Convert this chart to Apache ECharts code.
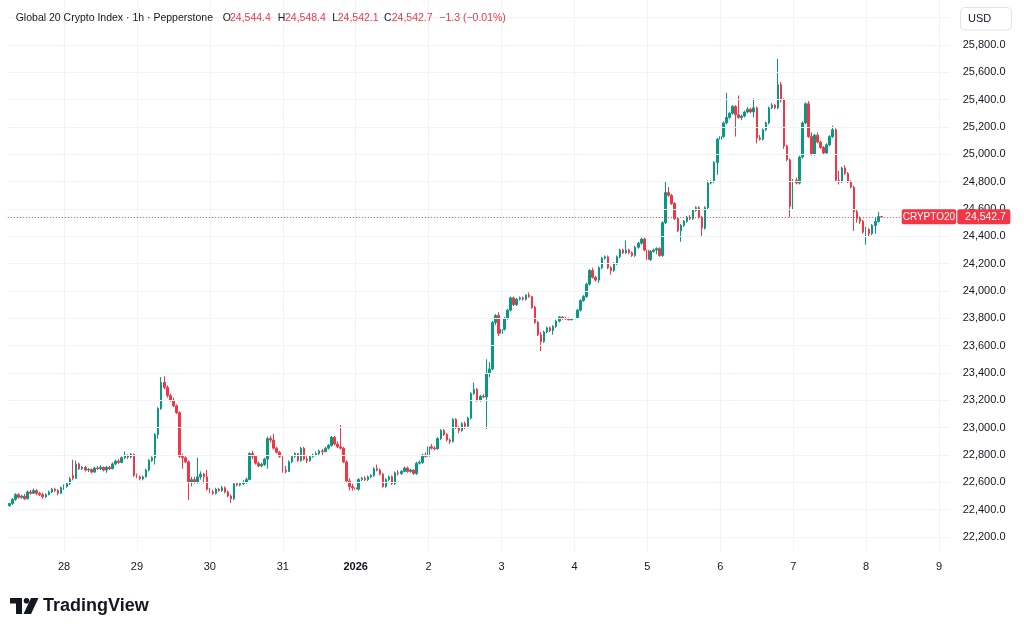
<!DOCTYPE html>
<html><head><meta charset="utf-8">
<script src="https://cdn.jsdelivr.net/npm/echarts@6/dist/echarts.min.js"></script>
<style>html,body{margin:0;padding:0;background:#fff}#c{width:1024px;height:632px}</style>
</head><body><div id="c"></div>
<script>
// Hourly candles [open, high, low, close], first candle = 27 Dec 2025 06:00
const startTime = Date.UTC(2025, 11, 27, 6);
const futureHours = 22;
const seriesName = 'CRYPTO20';
const headerTitle = 'Global 20 Crypto Index · 1h · Pepperstone';
const headerOHLC = [['O','24,544.4'],['H','24,548.4'],['L','24,542.1'],['C','24,542.7']];
const headerChange = '−1.3 (−0.01%)';
const currencyLabel = 'USD';
const priceTicks = [22200, 22400, 22600, 22800, 23000, 23200, 23400, 23600, 23800, 24000,
  24200, 24400, 24600, 24800, 25000, 25200, 25400, 25600, 25800, 26000];

const dec27 = [
[22430,22450,22420,22445],[22445,22485,22435,22475],[22475,22520,22465,22510],[22510,22520,22480,22490],
[22490,22510,22480,22500],[22500,22515,22470,22480],[22480,22540,22475,22530],[22530,22545,22510,22520],
[22520,22555,22515,22540],[22540,22550,22505,22520],[22520,22530,22500,22510],[22510,22525,22480,22495],
[22495,22520,22485,22510],[22510,22540,22505,22530],[22530,22560,22520,22550],[22550,22560,22530,22540],
[22540,22550,22505,22520],[22520,22570,22515,22560]];
const dec28 = [
[22560,22585,22545,22570],[22570,22600,22560,22590],[22590,22640,22580,22625],[22650,22765,22615,22630],
[22630,22760,22625,22735],[22735,22745,22690,22700],[22700,22720,22690,22710],[22710,22720,22680,22690],
[22690,22705,22675,22695],[22695,22700,22665,22675],[22675,22715,22670,22705],[22705,22720,22690,22700],
[22700,22725,22690,22710],[22710,22715,22680,22690],[22690,22720,22670,22710],[22710,22720,22690,22700],
[22700,22745,22695,22735],[22735,22765,22725,22755],[22755,22770,22735,22745],[22745,22790,22740,22780],
[22780,22825,22770,22795],[22795,22805,22770,22785],[22785,22815,22775,22805],[22805,22810,22640,22650]];
const dec29 = [
[22650,22665,22630,22640],[22640,22650,22615,22625],[22625,22650,22615,22640],[22640,22700,22635,22690],
[22690,22770,22680,22760],[22760,22790,22750,22780],[22780,22960,22730,22950],[22950,23150,22920,23140],
[23140,23370,23130,23330],[23330,23375,23280,23295],[23295,23310,23220,23235],[23235,23250,23190,23200],
[23200,23220,23150,23160],[23160,23170,23100,23110],[23110,23120,22780,22790],[22790,22810,22700,22780],
[22780,22790,22740,22750],[22750,22760,22470,22600],[22600,22640,22570,22620],[22620,22640,22590,22600],
[22600,22780,22590,22640],[22640,22680,22620,22660],[22660,22670,22590,22640],[22640,22690,22540,22550]];
const dec30 = [
[22550,22560,22520,22530],[22530,22545,22510,22520],[22520,22560,22510,22550],[22550,22560,22530,22540],
[22540,22575,22530,22560],[22560,22570,22520,22530],[22530,22540,22490,22500],[22500,22510,22450,22480],
[22480,22600,22470,22590],[22590,22600,22570,22580],[22580,22600,22570,22590],[22590,22615,22580,22600],
[22600,22635,22590,22620],[22620,22820,22615,22810],[22810,22830,22770,22790],[22790,22800,22730,22740],
[22740,22750,22710,22720],[22720,22745,22710,22730],[22730,22780,22720,22770],[22770,22935,22700,22920],
[22920,22940,22890,22910],[22910,22955,22840,22850],[22850,22860,22810,22820],[22820,22830,22780,22790]];
const dec31 = [
[22790,22800,22670,22680],[22690,22720,22665,22680],[22680,22760,22675,22750],[22750,22800,22740,22790],
[22790,22820,22780,22810],[22810,22815,22750,22760],[22760,22860,22750,22850],[22850,22860,22760,22770],
[22770,22790,22740,22760],[22760,22800,22750,22790],[22790,22810,22780,22800],[22800,22825,22790,22810],
[22810,22840,22800,22830],[22830,22845,22800,22825],[22825,22860,22820,22850],[22850,22880,22840,22870],
[22870,22940,22860,22930],[22930,22940,22870,22880],[22880,22900,22850,22860],[22860,23020,22840,22850],
[22850,22860,22740,22750],[22750,22760,22600,22610],[22610,22630,22540,22570],[22570,22590,22540,22560]];
const jan01 = [
[22560,22570,22480,22550],[22550,22630,22540,22620],[22620,22640,22610,22630],[22630,22645,22610,22620],
[22620,22650,22610,22640],[22640,22660,22630,22650],[22650,22710,22640,22700],[22700,22730,22680,22690],
[22690,22700,22650,22660],[22660,22670,22560,22570],[22570,22630,22560,22620],[22620,22650,22610,22640],
[22640,22650,22580,22590],[22590,22680,22580,22670],[22670,22690,22650,22665],[22665,22690,22655,22680],
[22680,22715,22675,22705],[22705,22715,22670,22680],[22680,22700,22670,22690],[22690,22695,22655,22665],
[22665,22750,22655,22740],[22740,22760,22730,22745],[22745,22810,22735,22800],[22800,22820,22780,22790]];
const jan02 = [
[22790,22870,22785,22860],[22860,22880,22840,22850],[22850,22865,22835,22845],[22845,22930,22840,22920],
[22920,22990,22910,22980],[22980,22990,22940,22950],[22950,22960,22900,22910],[22910,22920,22880,22900],
[22900,23070,22890,23060],[23060,23070,22990,23000],[23000,23010,22960,22980],[22980,23040,22970,23030],
[23030,23045,22990,23010],[23010,23080,23000,23070],[23070,23260,23060,23250],[23250,23330,23240,23280],
[23280,23290,23190,23200],[23200,23240,23190,23230],[23230,23245,23215,23225],[23225,23500,22990,23400],
[23400,23480,23370,23430],[23430,23780,23420,23770],[23770,23830,23750,23820],[23820,23845,23670,23690]];
const jan03 = [
[23690,23730,23680,23720],[23720,23810,23710,23800],[23800,23870,23790,23860],[23860,23960,23850,23950],
[23950,23960,23890,23900],[23900,23950,23890,23940],[23940,23960,23930,23950],[23950,23960,23930,23940],
[23940,23975,23930,23970],[23970,23990,23950,23960],[23960,23965,23870,23880],[23880,23890,23760,23770],
[23770,23780,23670,23680],[23680,23700,23560,23630],[23630,23710,23620,23700],[23700,23740,23690,23730],
[23730,23740,23700,23710],[23710,23750,23680,23740],[23740,23790,23730,23780],[23780,23815,23770,23810],
[23810,23815,23790,23800],[23800,23810,23790,23795],[23795,23805,23785,23790],[23790,23800,23785,23795]];
const jan04 = [
[23795,23810,23785,23800],[23800,23870,23795,23860],[23860,23940,23850,23930],[23930,23970,23920,23960],
[23960,24060,23950,24050],[24050,24160,24040,24150],[24150,24170,24090,24100],[24100,24110,24070,24080],
[24080,24180,24060,24170],[24170,24250,24160,24240],[24240,24260,24230,24250],[24250,24260,24160,24170],
[24170,24180,24120,24150],[24150,24210,24140,24200],[24200,24260,24190,24250],[24250,24310,24240,24300],
[24300,24310,24270,24280],[24280,24370,24270,24300],[24300,24310,24270,24280],[24280,24290,24250,24260],
[24260,24330,24250,24320],[24320,24360,24310,24350],[24350,24390,24340,24380],[24380,24390,24290,24300]];
const jan05 = [
[24300,24310,24150,24230],[24230,24300,24220,24290],[24290,24310,24280,24300],[24300,24320,24270,24310],
[24310,24320,24250,24260],[24260,24510,24250,24500],[24500,24800,24490,24720],[24720,24760,24690,24700],
[24700,24710,24630,24640],[24640,24650,24520,24530],[24530,24540,24430,24440],[24440,24490,24360,24480],
[24480,24520,24470,24510],[24510,24550,24500,24540],[24540,24555,24520,24530],[24530,24600,24520,24590],
[24590,24620,24580,24610],[24610,24620,24530,24540],[24540,24550,24400,24460],[24460,24620,24450,24610],
[24610,24810,24600,24790],[24790,24810,24780,24800],[24800,24950,24790,24940],[24940,25120,24850,25110]];
const jan06 = [
[25110,25150,25100,25130],[25130,25240,25120,25230],[25230,25450,25220,25270],[25270,25310,25260,25300],
[25300,25360,25290,25350],[25350,25360,25130,25290],[25290,25430,25260,25270],[25270,25290,25250,25280],
[25280,25320,25270,25310],[25310,25345,25300,25330],[25330,25340,25300,25310],[25310,25410,25270,25340],
[25340,25350,25080,25120],[25120,25140,25100,25110],[25110,25190,25100,25180],[25180,25240,25170,25230],
[25230,25350,25220,25340],[25340,25375,25330,25360],[25360,25370,25330,25340],[25340,25700,25330,25510],
[25510,25530,25380,25400],[25400,25410,25040,25060],[25060,25070,24950,24960],[24960,24970,24540,24620]];
const jan07 = [
[24620,24820,24600,24810],[24810,24830,24780,24790],[24790,24990,24780,24980],[24980,25240,24970,25230],
[25230,25380,25220,25370],[25370,25390,25120,25130],[25130,25160,24990,25000],[25000,25150,24990,25140],
[25140,25160,25080,25090],[25090,25100,25040,25050],[25050,25060,25000,25010],[25010,25080,25000,25070],
[25070,25140,25060,25130],[25130,25210,25120,25180],[25180,25190,24800,24810],[24810,24880,24780,24800],
[24800,24910,24790,24900],[24900,24920,24850,24860],[24860,24870,24790,24800],[24800,24810,24750,24760],
[24760,24770,24440,24580],[24580,24600,24500,24530],[24530,24545,24490,24510],[24510,24520,24420,24430]];
const jan08 = [
[24430,24470,24340,24450],[24450,24460,24400,24420],[24420,24490,24410,24480],[24480,24540,24420,24510],
[24510,24580,24500,24544.4],[24544.4,24548.4,24542.1,24542.7]];

const candles = [].concat(dec27, dec28, dec29, dec30, dec31, jan01, jan02, jan03, jan04, jan05, jan06, jan07, jan08);
const total = candles.length + futureHours;
const categories = [];
for (let i = 0; i < total; i++) categories.push(startTime + i * 3600000);
const lastClose = candles[candles.length - 1][3];

const UP = '#089981', DOWN = '#f23645', TEXT = '#131722', GRID = '#f0f3fa';
const FONT = 'Liberation Sans, Arial, sans-serif';
function fmt(v) {
  return Number(v).toLocaleString('en-US', {minimumFractionDigits: 1, maximumFractionDigits: 1});
}
function isDayStart(i) { return new Date(categories[i]).getUTCHours() === 0; }
const dayStartIdx = [];
for (let i = 0; i < total; i++) if (isDayStart(i)) dayStartIdx.push(i);

const gridLines = [].concat(
  priceTicks.map(v => ({yAxis: v})),
  dayStartIdx.map(i => ({xAxis: i}))
);

const chart = echarts.init(document.getElementById('c'), null, {renderer: 'canvas'});
const option = {
  animation: false,
  backgroundColor: '#ffffff',
  grid: {left: 7.8, right: 74.3, top: 0, bottom: 81},
  xAxis: {
    type: 'category',
    data: categories,
    boundaryGap: true,
    axisLine: {show: false},
    axisTick: {show: false},
    splitLine: {show: false},
    axisLabel: {
      interval: (i) => isDayStart(i),
      margin: 10,
      fontSize: 11,
      fontFamily: FONT,
      color: TEXT,
      formatter: (v) => {
        const d = new Date(Number(v));
        if (d.getUTCMonth() === 0 && d.getUTCDate() === 1) return '{b|' + d.getUTCFullYear() + '}';
        return String(d.getUTCDate());
      },
      rich: {b: {fontWeight: 'bold', fontSize: 11, fontFamily: FONT, color: TEXT}}
    }
  },
  yAxis: {
    type: 'value',
    position: 'right',
    scale: true,
    min: 22097.6,
    max: 26129.3,
    minInterval: 200,
    maxInterval: 200,
    splitNumber: 20,
    axisLine: {show: false},
    axisTick: {show: false},
    splitLine: {show: false},
    axisLabel: {
      margin: 13,
      fontSize: 11,
      fontFamily: FONT,
      color: TEXT,
      showMinLabel: false,
      showMaxLabel: false,
      formatter: (v) => (Math.abs(v % 200) < 0.001 && v < 25900) ? fmt(v) : ''
    }
  },
  series: [{
    name: 'grid',
    type: 'line',
    data: [],
    z: 0,
    silent: true,
    markLine: {
      silent: true,
      symbol: 'none',
      label: {show: false},
      emphasis: {disabled: true},
      lineStyle: {color: GRID, type: 'solid', width: 1},
      data: gridLines
    }
  }, {
    name: seriesName,
    type: 'candlestick',
    z: 2,
    barWidth: 2,
    data: candles.map(r => [r[0], r[3], r[2], r[1]]),
    itemStyle: {color: UP, color0: DOWN, borderColor: UP, borderColor0: DOWN, borderWidth: 1},
    markLine: {
      silent: true,
      symbol: 'none',
      label: {show: false},
      lineStyle: {color: DOWN, type: [1, 2], width: 1},
      data: [{yAxis: lastClose}]
    }
  }]
};
chart.setOption(option);

const py = chart.convertToPixel({yAxisIndex: 0}, lastClose);
const HF = '10.5px ' + FONT;
const HT = 12.5;
chart.setOption({
  graphic: [
    {type: 'text', left: 15.7, top: HT, z: 100, style: {text: headerTitle, font: HF, fill: TEXT}},
    {type: 'text', left: 222.7, top: HT, z: 100, style: {text: headerOHLC[0][0], font: HF, fill: TEXT}},
    {type: 'text', left: 230, top: HT, z: 100, style: {text: headerOHLC[0][1], font: HF, fill: DOWN}},
    {type: 'text', left: 277.7, top: HT, z: 100, style: {text: headerOHLC[1][0], font: HF, fill: TEXT}},
    {type: 'text', left: 285, top: HT, z: 100, style: {text: headerOHLC[1][1], font: HF, fill: DOWN}},
    {type: 'text', left: 332.3, top: HT, z: 100, style: {text: headerOHLC[2][0], font: HF, fill: TEXT}},
    {type: 'text', left: 337.7, top: HT, z: 100, style: {text: headerOHLC[2][1], font: HF, fill: DOWN}},
    {type: 'text', left: 384, top: HT, z: 100, style: {text: headerOHLC[3][0], font: HF, fill: TEXT}},
    {type: 'text', left: 391.7, top: HT, z: 100, style: {text: headerOHLC[3][1], font: HF, fill: DOWN}},
    {type: 'text', left: 439.3, top: HT, z: 100, style: {text: headerChange, font: HF, fill: DOWN}},
    // currency box
    {type: 'rect', z: 100, shape: {x: 960.5, y: 7.5, width: 51, height: 22.5, r: 4},
      style: {fill: '#ffffff', stroke: '#e0e3eb', lineWidth: 1}},
    {type: 'text', z: 101, x: 968, y: 13, style: {text: currencyLabel, font: '11px ' + FONT, fill: TEXT}},
    // last price labels
    {type: 'rect', z: 100, shape: {x: 901.7, y: py - 7.5, width: 54.5, height: 15, r: 2}, style: {fill: DOWN}},
    {type: 'text', z: 101, x: 928.9, y: py, style: {text: seriesName, font: '10px ' + FONT, fill: '#fff', align: 'center', verticalAlign: 'middle'}},
    {type: 'rect', z: 100, shape: {x: 957.3, y: py - 7.5, width: 53, height: 15, r: 2}, style: {fill: DOWN}},
    {type: 'text', z: 101, x: 985.5, y: py, style: {text: fmt(lastClose), font: '10.5px ' + FONT, fill: '#fff', align: 'center', verticalAlign: 'middle'}},
    // TradingView logo
    {type: 'group', z: 100, children: [
      {type: 'rect', shape: {x: 10, y: 598, width: 12, height: 5.5}, style: {fill: TEXT}},
      {type: 'rect', shape: {x: 16, y: 598, width: 6, height: 16}, style: {fill: TEXT}},
      {type: 'circle', shape: {cx: 26.5, cy: 600.8, r: 2.8}, style: {fill: TEXT}},
      {type: 'polygon', shape: {points: [[31, 598], [38.5, 598], [31, 614], [23.5, 614]]}, style: {fill: TEXT}},
      {type: 'text', x: 43, y: 606, style: {text: 'TradingView', font: 'bold 18px ' + FONT, fill: TEXT, verticalAlign: 'middle'}}
    ]}
  ]
});
</script>
</body></html>
